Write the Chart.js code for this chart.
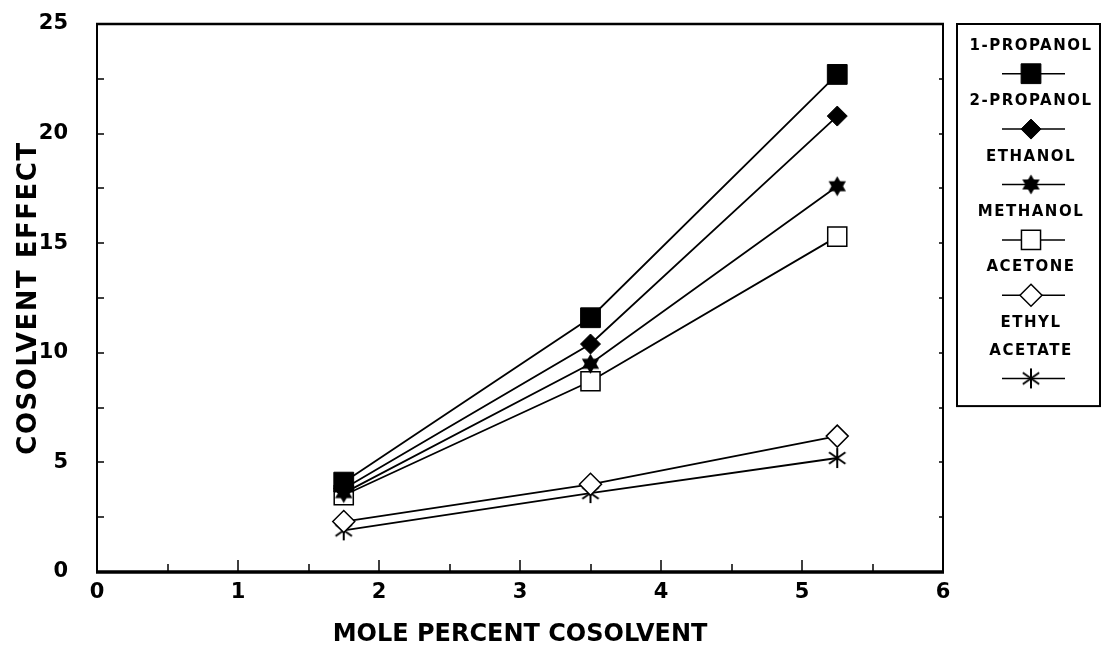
<!DOCTYPE html>
<html>
<head>
<meta charset="utf-8">
<title>Cosolvent effect</title>
<script src="https://cdn.jsdelivr.net/npm/chart.js@4.4.1/dist/chart.umd.min.js"></script>
<style>
  html, body { margin: 0; padding: 0; background: #fff; }
  #wrap { width: 1102px; height: 653px; position: relative; }
</style>
</head>
<body>
<div id="wrap"><canvas id="cosolventChart"></canvas></div>
<script>
// mole percent of cosolvent in the mixture
const molePercent = [1.75, 3.5, 5.25];

// cosolvent effect for each solvent
const propanol1 = [4.1, 11.6, 22.7];
const propanol2 = [3.8, 10.4, 20.8];
const ethanol = [3.6, 9.5, 17.6];
const methanol = [3.5, 8.7, 15.3];
const acetone = [2.3, 4.0, 6.2];
const ethylAcetate = [1.9, 3.6, 5.2];

const seriesNames = ['1-PROPANOL', '2-PROPANOL', 'ETHANOL', 'METHANOL', 'ACETONE', 'ETHYL ACETATE'];
const legendLines = [['1-PROPANOL'], ['2-PROPANOL'], ['ETHANOL'], ['METHANOL'], ['ACETONE'], ['ETHYL', 'ACETATE']];

const xTitle = 'MOLE PERCENT COSOLVENT';
const yTitle = 'COSOLVENT EFFECT';

const FONT = '"DejaVu Sans", "Liberation Sans", sans-serif';

// filled six-pointed star
function hexagram(size) {
  const c = document.createElement('canvas');
  c.width = c.height = size;
  const g = c.getContext('2d');
  const m = size / 2, r = size / 2 - 0.5;
  g.fillStyle = '#000';
  [-90, 90].forEach(start => {
    g.beginPath();
    for (let i = 0; i < 3; i++) {
      const a = (start + i * 120) * Math.PI / 180;
      const px = m + r * Math.cos(a), py = m + r * Math.sin(a);
      i ? g.lineTo(px, py) : g.moveTo(px, py);
    }
    g.closePath();
    g.fill();
  });
  return c;
}

// six-armed asterisk
function asterisk(size) {
  const c = document.createElement('canvas');
  c.width = c.height = size;
  const g = c.getContext('2d');
  const m = size / 2, r = size / 2 - 1;
  g.strokeStyle = '#000';
  g.lineWidth = 2;
  g.beginPath();
  [90, 35, 145].forEach(deg => {
    const a = deg * Math.PI / 180;
    g.moveTo(m - r * Math.cos(a), m - r * Math.sin(a));
    g.lineTo(m + r * Math.cos(a), m + r * Math.sin(a));
  });
  g.stroke();
  return c;
}

const markerStyles = [
  { pointStyle: 'rect', radius: 14, fill: '#000', border: 1 },
  { pointStyle: 'rectRot', radius: 10, fill: '#000', border: 1 },
  { pointStyle: hexagram(21), radius: 10, fill: '#000', border: 0 },
  { pointStyle: 'rect', radius: 13.5, fill: '#fff', border: 1.5 },
  { pointStyle: 'rectRot', radius: 11, fill: '#fff', border: 1.5 },
  { pointStyle: asterisk(22), radius: 11, fill: '#000', border: 0 }
];

const seriesValues = [propanol1, propanol2, ethanol, methanol, acetone, ethylAcetate];

const datasets = seriesValues.map((vals, i) => ({
  label: seriesNames[i],
  data: vals.map((v, j) => ({ x: molePercent[j], y: v })),
  borderColor: '#000',
  borderWidth: 1.8,
  pointStyle: markerStyles[i].pointStyle,
  pointRadius: markerStyles[i].radius,
  pointHoverRadius: markerStyles[i].radius,
  pointBackgroundColor: markerStyles[i].fill,
  pointBorderColor: '#000',
  pointBorderWidth: markerStyles[i].border,
  fill: false,
  tension: 0
}));

// draws a legend marker the same way the points look
function drawMarker(ctx, style, cx, cy) {
  ctx.save();
  ctx.fillStyle = style.fill;
  ctx.strokeStyle = '#000';
  ctx.lineWidth = style.border || 1;
  if (style.pointStyle === 'rect') {
    const s = style.radius * Math.SQRT1_2;
    ctx.beginPath();
    ctx.rect(cx - s, cy - s, 2 * s, 2 * s);
    ctx.fill();
    ctx.stroke();
  } else if (style.pointStyle === 'rectRot') {
    const r = style.radius;
    ctx.beginPath();
    ctx.moveTo(cx, cy - r); ctx.lineTo(cx + r, cy);
    ctx.lineTo(cx, cy + r); ctx.lineTo(cx - r, cy);
    ctx.closePath();
    ctx.fill();
    ctx.stroke();
  } else {
    const img = style.pointStyle;
    ctx.drawImage(img, cx - img.width / 2, cy - img.height / 2);
  }
  ctx.restore();
}

// box frame plus inward tick marks on the plot area
const frameTicks = {
  id: 'frameTicks',
  beforeDatasetsDraw(chart) {
    const { ctx, chartArea: a, scales: { x, y } } = chart;
    ctx.save();
    ctx.strokeStyle = '#000';
    ctx.lineWidth = 1.5;
    ctx.beginPath();
    for (let v = y.min; v <= y.max + 1e-9; v += 2.5) {
      const py = Math.round(y.getPixelForValue(v));
      ctx.moveTo(a.left, py); ctx.lineTo(a.left + 7, py);
      ctx.moveTo(a.right, py); ctx.lineTo(a.right - 4, py);
    }
    for (let v = x.min; v <= x.max + 1e-9; v += 0.5) {
      const px = Math.round(x.getPixelForValue(v));
      const len = Math.abs(v - Math.round(v)) < 1e-9 ? 12 : 8;
      ctx.moveTo(px, a.bottom); ctx.lineTo(px, a.bottom - len);
    }
    ctx.stroke();
    ctx.lineWidth = 2;
    ctx.strokeRect(a.left, a.top, a.right - a.left, a.bottom - a.top);
    ctx.lineWidth = 2.5;
    ctx.beginPath();
    ctx.moveTo(a.left - 1, a.top);
    ctx.lineTo(a.right + 1, a.top);
    ctx.stroke();
    ctx.lineWidth = 3.5;
    ctx.beginPath();
    ctx.moveTo(a.left - 1, a.bottom);
    ctx.lineTo(a.right + 1, a.bottom);
    ctx.stroke();
    ctx.restore();
  },
  afterDraw(chart) {
    const { ctx, chartArea: a } = chart;
    ctx.save();
    ctx.fillStyle = '#000';
    ctx.textAlign = 'center';
    ctx.textBaseline = 'middle';

    // axis titles
    ctx.font = 'bold 24px ' + FONT;
    ctx.fillText(xTitle, (a.left + a.right) / 2, 635);
    ctx.save();
    ctx.translate(29, (a.top + a.bottom) / 2);
    ctx.rotate(-Math.PI / 2);
    ctx.font = 'bold 26px ' + FONT;
    ctx.letterSpacing = '1.5px';
    ctx.fillText(yTitle, 0, 0);
    ctx.restore();

    // legend box
    const boxLeft = 957, boxRight = 1100, boxTop = a.top;
    const rowH = 27.7;
    const cx = 1031;
    let row = 0;
    ctx.font = 'bold 15px ' + FONT;
    ctx.letterSpacing = '1.5px';
    chart.data.datasets.forEach((ds, i) => {
      legendLines[i].forEach(line => {
        ctx.fillText(line, cx, boxTop + 22 + row * rowH);
        row++;
      });
      const my = boxTop + 22 + row * rowH;
      ctx.strokeStyle = '#000';
      ctx.lineWidth = 1.5;
      ctx.beginPath();
      ctx.moveTo(1002, my); ctx.lineTo(1065, my);
      ctx.stroke();
      drawMarker(ctx, markerStyles[i], cx, my);
      row++;
    });
    const boxBottom = boxTop + 22 + row * rowH;
    ctx.lineWidth = 2;
    ctx.strokeRect(boxLeft, boxTop, boxRight - boxLeft, boxBottom - boxTop);
    ctx.restore();
  }
};

const ctx = document.getElementById('cosolventChart').getContext('2d');
const chart = new Chart(ctx, {
  type: 'line',
  data: { datasets: datasets },
  options: {
    responsive: true,
    maintainAspectRatio: false,
    animation: false,
    layout: { padding: { top: 24, right: 159, bottom: 0, left: 0 } },
    plugins: {
      legend: { display: false },
      tooltip: { enabled: false }
    },
    scales: {
      x: {
        type: 'linear',
        min: 0,
        max: 6,
        grid: { display: false },
        border: { display: false },
        ticks: {
          stepSize: 1,
          padding: 0,
          color: '#000',
          font: { family: FONT, size: 21, weight: 'bold' }
        },
        afterFit(scale) {
          scale.height = 81;
          scale.paddingLeft = 0;
          scale.paddingRight = 0;
        }
      },
      y: {
        min: 0,
        max: 25,
        grid: { display: false },
        border: { display: false },
        ticks: {
          stepSize: 5,
          padding: 21,
          color: '#000',
          font: { family: FONT, size: 21, weight: 'bold' }
        },
        afterFit(scale) {
          scale.width = 97;
          scale.paddingTop = 0;
          scale.paddingBottom = 0;
        }
      }
    }
  },
  plugins: [frameTicks]
});
</script>
</body>
</html>
